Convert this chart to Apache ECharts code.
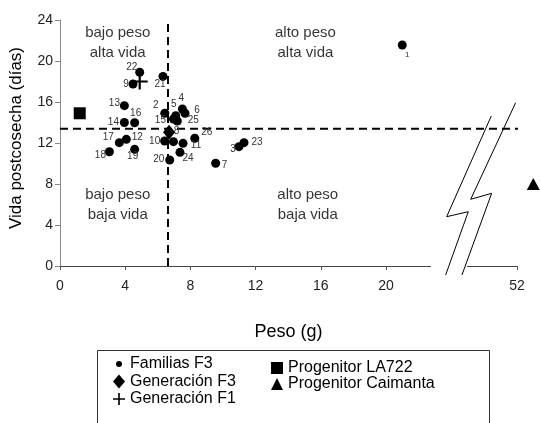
<!DOCTYPE html>
<html lang="es">
<head>
<meta charset="UTF-8">
<title>Peso vs vida postcosecha</title>
<script src="https://cdn.jsdelivr.net/npm/echarts@6/dist/echarts.min.js"></script>
<style>
    html, body { margin: 0; padding: 0; background: #fff; }
    #grafico { width: 540px; height: 423px; }
</style>
</head>
<body>
<div id="grafico"></div>
<script type="text/javascript">
    // familias F3: numero, peso (g) y vida postcosecha (dias)
    var famId   = [1, 2, 3, 4, 5, 6, 7, 8, 9, 10, 11, 12, 13, 14, 15, 16, 17, 18, 19, 20, 21, 22, 23, 24, 25, 26];
    var famPeso = [21.0, 6.43, 10.98, 7.51, 7.1, 7.67, 9.55, 6.96, 4.48, 6.42, 7.55, 4.07, 3.95,
                   3.95, 6.96, 4.58, 3.64, 3.03, 4.58, 6.73, 6.32, 4.89, 11.29, 7.36, 7.2, 8.27];
    var famVida = [21.56, 14.9, 11.64, 15.32, 14.66, 14.9, 10.02, 12.13, 17.76, 12.2, 11.97, 12.36, 15.64,
                   14.0, 14.34, 13.98, 12.03, 11.15, 11.38, 10.34, 18.5, 18.9, 12.03, 11.09, 14.15, 12.46];

    // progenitores y generaciones [peso, vida]
    var la722    = [1.21, 14.9];
    var caimanta = [53, 8];
    var genF3    = [6.69, 13.04];
    var genF1    = [4.89, 18.0];

    // lineas de referencia
    var mediaPeso = 6.6;
    var mediaVida = 13.4;

    // eje x cortado
    var corteX = [22.7, 48.93];
    var xTicks = [0, 4, 8, 12, 16, 20, 52];

    // textos de los cuadrantes
    var cuadTexto = ['bajo peso\nalta vida', 'alto peso\nalta vida', 'bajo peso\nbaja vida', 'alto peso\nbaja vida'];
    var cuadPeso  = [3.54, 15.06, 3.54, 15.2];
    var cuadVida  = [21.76, 21.76, 5.95, 5.95];

    // donde va el numero de cada familia (desplazamiento en px)
    var etiquetaPos = {
        1: [5, 10], 2: [-9, -8], 3: [-6, 3], 4: [-1, -11], 5: [-2, -11], 6: [12, -3], 7: [9, 2],
        8: [3, -10], 9: [-7, 0], 10: [-10, 0], 11: [13, 2], 12: [11, -2], 13: [-10, -2], 14: [-11, 0],
        15: [-13, 1], 16: [1, -9], 17: [-11, -5], 18: [-9, 4], 19: [-2, 7], 20: [-11, -1], 21: [-3, 8],
        22: [-8, -5], 23: [13, 0], 24: [8, 6], 25: [16, -1], 26: [12, -6]
    };

    var cruz = 'path://M6.9,0h2.2v6.9h6.9v2.2h-6.9v6.9h-2.2v-6.9h-6.9v-2.2h6.9z';
    var puntoChico = 'path://M0,0L0,0M14,14L14,14M10.5,7A3.5,3.5,0,1,1,3.5,7A3.5,3.5,0,1,1,10.5,7Z';

    var myChart = echarts.init(document.getElementById('grafico'));

    var familias = famId.map(function (id, i) {
        return {
            name: String(id),
            value: [famPeso[i], famVida[i]],
            label: { offset: etiquetaPos[id] || [8, 0], fontSize: id === 1 ? 8 : 10 }
        };
    });

    var cuadrantes = cuadTexto.map(function (t, i) {
        return { name: t, value: [cuadPeso[i], cuadVida[i]] };
    });

    var negro = '#000';
    var relleno = { color: negro, opacity: 1 };

    var option = {
        animation: false,
        textStyle: { fontFamily: 'Liberation Sans, Arial, sans-serif' },
        grid: { left: 60, right: 23, top: 20, bottom: 157, outerBoundsMode: 'none' },
        xAxis: {
            type: 'value',
            min: 0,
            max: 52,
            breaks: [{ start: corteX[0], end: corteX[1], gap: 2.27 }],
            breakArea: {
                show: true,
                expandOnClick: false,
                itemStyle: { color: 'rgba(0,0,0,0)', borderColor: 'rgba(0,0,0,0)', opacity: 0 }
            },
            name: 'Peso (g)',
            nameLocation: 'middle',
            nameGap: 57,
            nameTextStyle: { fontSize: 18, color: '#000' },
            axisLine: { lineStyle: { color: '#444', width: 1 } },
            axisTick: { show: true, length: 4, customValues: xTicks, lineStyle: { color: '#555' } },
            axisLabel: { customValues: xTicks, fontSize: 14, color: '#222', margin: 13 },
            splitLine: { show: false }
        },
        yAxis: {
            type: 'value',
            min: 0,
            max: 24,
            interval: 4,
            name: 'Vida postcosecha (días)',
            nameLocation: 'middle',
            nameGap: 35,
            nameTextStyle: { fontSize: 17, color: '#000', padding: [0, 0, 0, 10] },
            axisLine: { show: true, lineStyle: { color: '#888', width: 1 } },
            axisTick: { show: true, length: 5, lineStyle: { color: '#888' } },
            axisLabel: { fontSize: 14, color: '#222', margin: 7 },
            splitLine: { show: false }
        },
        legend: [
            {
                orient: 'vertical',
                left: 113,
                top: 356,
                padding: 0,
                itemWidth: 12,
                itemHeight: 14,
                itemGap: 1.5,
                selectedMode: false,
                textStyle: { fontSize: 16, color: '#000' },
                data: [
                    { name: 'Familias F3', icon: puntoChico },
                    { name: 'Generación F3', icon: 'diamond' },
                    { name: 'Generación F1', icon: cruz }
                ]
            },
            {
                orient: 'vertical',
                left: 271,
                top: 360,
                padding: 0,
                itemWidth: 12,
                itemHeight: 12,
                itemGap: 0,
                selectedMode: false,
                textStyle: { fontSize: 16, color: '#000' },
                data: [
                    { name: 'Progenitor LA722', icon: 'rect' },
                    { name: 'Progenitor Caimanta', icon: 'triangle' }
                ]
            }
        ],
        series: [
            {
                name: 'media vida',
                type: 'line',
                clip: false,
                silent: true,
                symbol: 'none',
                data: [[0, mediaVida], [53.42, mediaVida]],
                lineStyle: { color: negro, width: 2, type: [8, 5] },
                markLine: {
                    silent: true,
                    symbol: 'none',
                    label: { show: false },
                    lineStyle: { color: negro, width: 2, type: [8, 5] },
                    data: [{ xAxis: mediaPeso }]
                },
                z: 1
            },
            {
                name: 'cuadrantes',
                type: 'scatter',
                silent: true,
                symbolSize: 0,
                data: cuadrantes,
                label: {
                    show: true,
                    position: 'inside',
                    formatter: '{b}',
                    fontSize: 15,
                    lineHeight: 20,
                    color: '#000',
                    align: 'center'
                }
            },
            {
                name: 'Familias F3',
                type: 'scatter',
                clip: false,
                symbol: 'circle',
                symbolSize: 9,
                itemStyle: relleno,
                data: familias,
                label: {
                    show: true,
                    position: 'inside',
                    formatter: '{b}',
                    color: '#333',
                    align: 'center',
                    verticalAlign: 'middle'
                },
                z: 3
            },
            {
                name: 'Progenitor LA722',
                type: 'scatter',
                symbol: 'rect',
                symbolSize: 12,
                itemStyle: relleno,
                data: [la722],
                z: 3
            },
            {
                name: 'Generación F3',
                type: 'scatter',
                symbol: 'diamond',
                symbolSize: [12, 15],
                itemStyle: relleno,
                data: [genF3],
                z: 4
            },
            {
                name: 'Progenitor Caimanta',
                type: 'scatter',
                clip: false,
                symbol: 'triangle',
                symbolSize: [13, 12],
                itemStyle: relleno,
                data: [caimanta],
                z: 3
            },
            {
                name: 'Generación F1',
                type: 'scatter',
                symbol: cruz,
                symbolSize: 16,
                itemStyle: relleno,
                data: [genF1],
                z: 4
            }
        ]
    };

    myChart.setOption(option);

    // simbolo de corte del eje x y marco de la leyenda
    var p0 = myChart.convertToPixel({ gridIndex: 0 }, [corteX[0], 0]);
    var rayo1 = [[61.3, -150], [16.7, -49.3], [38.3, -54.3], [15.7, 9]];
    var rayo2 = [[85.7, -163.3], [40.7, -66.7], [61.7, -72.7], [32, 9]];
    function mover(pts) {
        return pts.map(function (p) { return [p0[0] + p[0], p0[1] + p[1]]; });
    }
    myChart.setOption({
        graphic: [
            {
                type: 'polyline',
                shape: { points: mover(rayo1) },
                style: { stroke: negro, lineWidth: 1, fill: null },
                z: 10
            },
            {
                type: 'polyline',
                shape: { points: mover(rayo2) },
                style: { stroke: negro, lineWidth: 1, fill: null },
                z: 10
            },
            {
                type: 'rect',
                shape: { x: 97.5, y: 350.5, width: 392, height: 100 },
                style: { stroke: '#333', lineWidth: 1, fill: null },
                z: 10
            }
        ]
    });
</script>
</body>
</html>
